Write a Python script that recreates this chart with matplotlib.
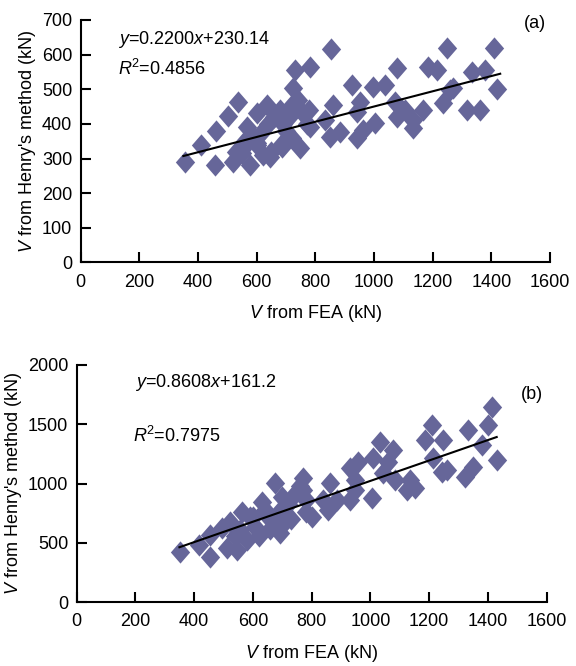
import matplotlib
matplotlib.use('Agg')
import matplotlib.pyplot as plt
import numpy as np

plt.rcParams['font.family'] = ['Liberation Sans', 'DejaVu Sans']
plt.rcParams['mathtext.fontset'] = 'custom'
plt.rcParams['mathtext.it'] = 'Liberation Sans:italic'
plt.rcParams['mathtext.rm'] = 'Liberation Sans'

# (a) FEA vs Henry's method, kN
fea_a = [356, 410, 460, 503, 537, 458, 520, 577, 549, 567, 601, 600, 635, 645, 669,
         720, 724, 731, 781, 750, 748, 781, 686, 684, 650, 600, 560, 550, 620,
         855, 925, 997, 1037, 860, 952, 1072, 1079, 1185, 1215, 1334, 1379, 1250,
         1410, 1106, 1259, 1269, 1235, 1317, 1361, 1420, 1167, 1133, 1079, 1004,
         942, 850, 884, 942, 963, 1133, 833, 780, 770, 710, 680, 690, 720, 660, 640,
         530, 590, 700, 610, 740]
hen_a = [290, 338, 380, 423, 462, 281, 290, 281, 327, 391, 344, 430, 454, 304, 425,
         454, 504, 555, 564, 437, 330, 391, 333, 340, 320, 340, 350, 316, 310,
         615, 512, 506, 512, 454, 463, 463, 561, 564, 555, 550, 555, 619,
         619, 440, 498, 503, 460, 440, 440, 500, 440, 411, 420, 402,
         434, 362, 376, 359, 382, 388, 411, 440, 400, 420, 440, 400, 360, 420, 400,
         320, 360, 380, 370, 470]

# (b) FEA vs Henry's method, kN
fea_b = [353, 415, 454, 454, 496, 523, 513, 564, 557, 591, 631, 676, 771, 771, 700,
         717, 692, 607, 546, 839, 1415, 1401, 1333, 1380, 1431, 1350, 1322, 1210,
         1186, 1247, 1213, 1244, 1261, 1033, 1009, 1077, 1060, 1043, 1084, 1135,
         1125, 1152, 958, 931, 948, 948, 931, 1006, 862, 887, 856,
         600, 640, 660, 690, 720, 740, 760, 780, 700, 660, 620, 580, 540, 730, 780, 800]
hen_b = [422, 481, 565, 380, 625, 675, 456, 760, 608, 717, 844, 1004, 1046, 946, 886,
         717, 582, 633, 439, 861, 1646, 1494, 1452, 1325, 1198, 1139, 1055, 1494,
         1367, 1367, 1215, 1097, 1114, 1350, 1215, 1283, 1182, 1089, 1030, 1030,
         945, 962, 1182, 1131, 1030, 945, 861, 878, 1004, 861, 777,
         720, 780, 700, 760, 830, 900, 980, 860, 650, 620, 560, 520, 560, 700, 760, 720]

fit_a = (0.2200, 230.14)
fit_b = (0.8608, 161.2)

diamond = [(0, 1.15), (1, 0), (0, -1.15), (-1, 0), (0, 1.15)]
col = '#666699'
fs = 13

fig = plt.figure(figsize=(5.76, 6.66), dpi=100)
ax1 = fig.add_axes([0.140, 0.606, 0.815, 0.364])
ax2 = fig.add_axes([0.133, 0.096, 0.816, 0.356])


def style(ax, ymax, ystep):
    ax.set_xlim(0, 1600)
    ax.set_ylim(0, ymax)
    ax.set_xticks(range(0, 1601, 200))
    ax.set_yticks(range(0, ymax + 1, ystep))
    for s in ['top', 'right']:
        ax.spines[s].set_visible(False)
    for s in ['left', 'bottom']:
        ax.spines[s].set_linewidth(1.5)
    ax.tick_params(direction='in', length=7, width=1.5, labelsize=fs)
    ax.tick_params(axis='x', pad=8)
    ax.tick_params(axis='y', pad=6)
    ax.set_xlabel('$V$ from FEA (kN)', fontsize=fs, labelpad=9)
    ax.set_ylabel("$V$ from Henry's method (kN)", fontsize=fs, labelpad=3)


for ax, x, y, fit, ymax, ystep in [(ax1, fea_a, hen_a, fit_a, 700, 100),
                                   (ax2, fea_b, hen_b, fit_b, 2000, 500)]:
    style(ax, ymax, ystep)
    ax.plot(x, y, linestyle='none', marker=diamond, markersize=16,
            color=col, markeredgewidth=0)
    xx = np.array([350, 1430])
    ax.plot(xx, fit[0] * xx + fit[1], color='black', linewidth=1.5)

ax1.text(0.08, 0.92, '$y$=0.2200$x$+230.14', transform=ax1.transAxes, fontsize=fs, va='center')
ax1.text(0.08, 0.80, '$R$$^2$=0.4856', transform=ax1.transAxes, fontsize=fs, va='center')
ax1.text(0.945, 0.985, '(a)', transform=ax1.transAxes, fontsize=fs, va='center')

ax2.text(0.125, 0.925, '$y$=0.8608$x$+161.2', transform=ax2.transAxes, fontsize=fs, va='center')
ax2.text(0.12, 0.70, '$R$$^2$=0.7975', transform=ax2.transAxes, fontsize=fs, va='center')
ax2.text(0.945, 0.875, '(b)', transform=ax2.transAxes, fontsize=fs, va='center')

fig.savefig('out.png', dpi=100)
